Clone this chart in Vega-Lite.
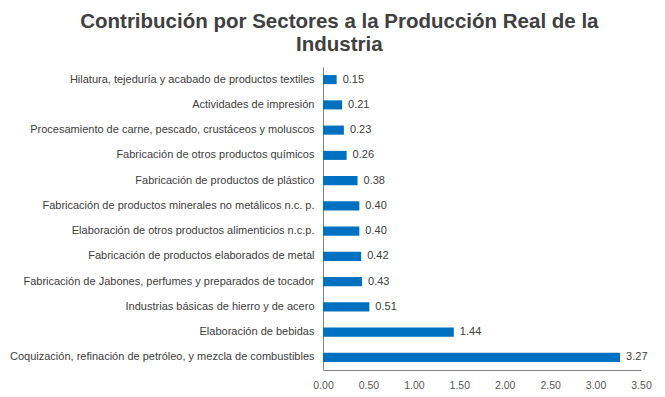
{
  "$schema": "https://vega.github.io/schema/vega-lite/v6.json",
  "width": 318,
  "height": 303,
  "autosize": "none",
  "padding": {"left": 323, "top": 67, "right": 24, "bottom": 27},
  "background": "white",
  "config": {
    "view": {"stroke": null},
    "font": "Liberation Sans"
  },
  "title": {
    "text": ["Contribución por Sectores a la Producción Real de la", "Industria"],
    "fontSize": 20.5,
    "fontWeight": "bold",
    "color": "#404040",
    "font": "Liberation Sans",
    "anchor": "middle",
    "frame": "bounds",
    "offset": 12,
    "dx": 9,
    "lineHeight": 23
  },
  "data": {
    "values": [
      {"sector": "Hilatura, tejeduría y acabado de productos textiles", "valor": 0.15, "orden": 1},
      {"sector": "Actividades de impresión", "valor": 0.21, "orden": 2},
      {"sector": "Procesamiento de carne, pescado, crustáceos y moluscos", "valor": 0.23, "orden": 3},
      {"sector": "Fabricación de otros productos químicos", "valor": 0.26, "orden": 4},
      {"sector": "Fabricación de productos de plástico", "valor": 0.38, "orden": 5},
      {"sector": "Fabricación de productos minerales no metálicos n.c. p.", "valor": 0.40, "orden": 6},
      {"sector": "Elaboración de otros productos alimenticios n.c.p. ", "valor": 0.40, "orden": 7},
      {"sector": "Fabricación de productos elaborados de metal", "valor": 0.42, "orden": 8},
      {"sector": "Fabricación de Jabones, perfumes y preparados de tocador", "valor": 0.43, "orden": 9},
      {"sector": "Industrias básicas de hierro y de acero", "valor": 0.51, "orden": 10},
      {"sector": "Elaboración de bebidas ", "valor": 1.44, "orden": 11},
      {"sector": "Coquización, refinación de petróleo, y mezcla de combustibles", "valor": 3.27, "orden": 12}
    ]
  },
  "encoding": {
    "y": {
      "field": "sector",
      "type": "nominal",
      "sort": {"field": "orden", "order": "ascending"},
      "scale": {"paddingInner": 0.64, "paddingOuter": 0.32},
      "axis": {
        "title": null,
        "ticks": false,
        "domainColor": "#868686",
        "labelColor": "#404040",
        "labelFontSize": 11,
        "labelPadding": 9,
        "labelLimit": 400,
        "grid": false
      }
    },
    "x": {
      "field": "valor",
      "type": "quantitative",
      "scale": {"domain": [0, 3.5], "nice": false},
      "axis": {
        "title": null,
        "values": [0, 0.5, 1, 1.5, 2, 2.5, 3, 3.5],
        "format": ".2f",
        "ticks": false,
        "grid": false,
        "domainColor": "#868686",
        "labelColor": "#595959",
        "labelFontSize": 10.5,
        "labelPadding": 10,
        "labelFlush": false
      }
    }
  },
  "layer": [
    {"mark": {"type": "bar", "color": "#0070C0"}},
    {
      "mark": {"type": "text", "align": "left", "baseline": "middle", "dx": 6, "fontSize": 11, "color": "#404040"},
      "encoding": {"text": {"field": "valor", "type": "quantitative", "format": ".2f"}}
    }
  ]
}
